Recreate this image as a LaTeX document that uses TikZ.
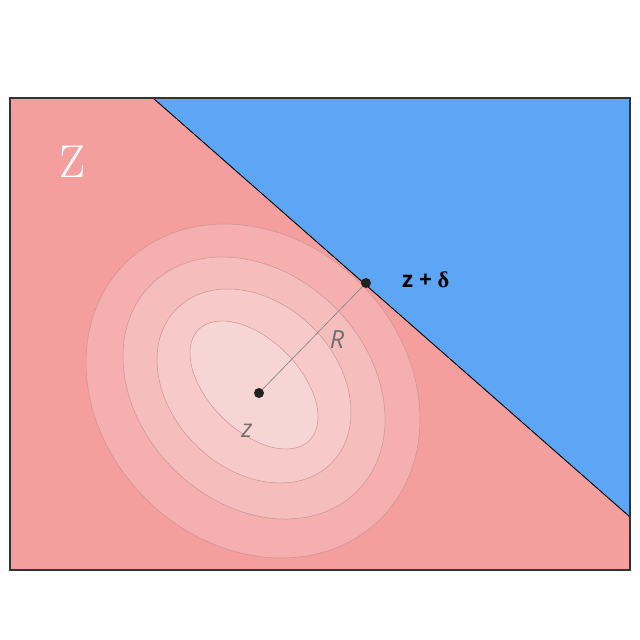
\documentclass[tikz,border=0pt]{standalone}
\usepackage{fontspec}
\setsansfont{Open Sans}
\newfontfamily\serifb{Liberation Serif}
\begin{document}
\begin{tikzpicture}[x=1pt,y=-1pt,
  ell/.style={draw=ringline, line width=0.5pt},
  dotn/.style={circle, fill=dotc, inner sep=0pt, minimum size=10pt},
  lbl/.style={font=\sffamily\itshape\fontsize{25}{25}\selectfont, text=labelgray}]
\definecolor{pinkbg}{HTML}{F59E9E}
\definecolor{bluebg}{HTML}{5CA6F5}
\definecolor{e1}{HTML}{F5AFAF}
\definecolor{e2}{HTML}{F6BDBD}
\definecolor{e3}{HTML}{F7C9C9}
\definecolor{e4}{HTML}{F8D5D5}
\definecolor{ringline}{HTML}{C99393}
\definecolor{dotc}{HTML}{222222}
\definecolor{labelgray}{HTML}{707070}
\useasboundingbox (0,0) rectangle (640,640);
\fill[white] (0,0) rectangle (640,640);
% regions
\fill[pinkbg] (10,98) rectangle (630,570);
% ellipses
\filldraw[ell, fill=e1] [rotate around={-45:(253,391)}] (253,391) ellipse [x radius=180.6, y radius=152.1];
\filldraw[ell, fill=e2] [rotate around={-45:(254,388)}] (254,388) ellipse [x radius=145.9, y radius=114.2];
\filldraw[ell, fill=e3] [rotate around={-45:(254,386)}] (254,386) ellipse [x radius=109.3, y radius=82.9];
\filldraw[ell, fill=e4] [rotate around={-45:(254,385)}] (254,385) ellipse [x radius=78.4, y radius=45.3];
% blue region and boundary line
\fill[bluebg] (153,98) -- (630,98) -- (630,517) -- cycle;
\draw[black, line width=0.9pt] (153,98) -- (630,517);
% frame
\draw[draw=black!80, line width=1.6pt] (10,98) rectangle (630,570);
% points
\node[dotn] (z) at (259,393) {};
\node[dotn] (zd) at (366,283) {};
\draw[gray, line width=0.6pt] (z) -- (zd);
% labels
\node[lbl, anchor=base] (lr) at (337,348) {R};
\node[lbl, anchor=base] (lz) at (247,437) {z};
\node[font=\sffamily\bfseries\fontsize{22.5}{22.5}\selectfont, anchor=base west, inner sep=0pt] (lzd) at (402,287) {z + {\serifb\bfseries δ}};
\node[text=white, font=\fontsize{46}{46}\selectfont] (lZ) at (72,162) {Z};
\end{tikzpicture}
\end{document}
